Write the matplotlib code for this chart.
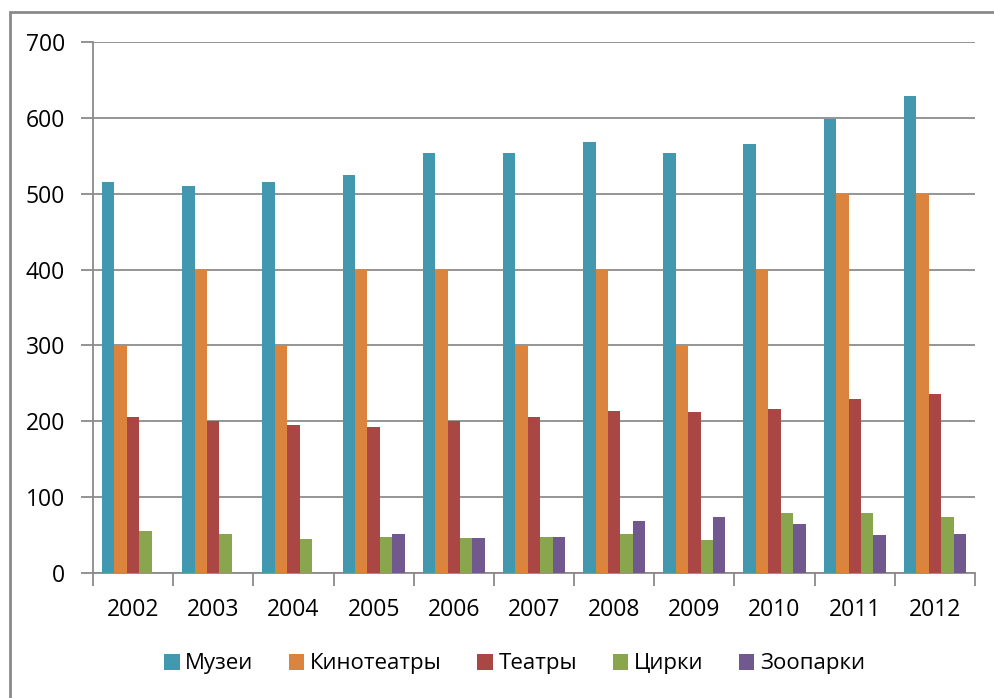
import numpy as np
import matplotlib.pyplot as plt
from matplotlib.patches import Rectangle

plt.rcParams['font.family'] = ['Open Sans', 'DejaVu Sans']

years = ['2002', '2003', '2004', '2005', '2006', '2007', '2008', '2009', '2010', '2011', '2012']
muzei = [515, 510, 515, 525, 554, 554, 568, 554, 566, 599, 629]
kino = [300, 400, 300, 400, 400, 300, 400, 300, 400, 500, 500]
teatry = [205, 200, 195, 193, 200, 205, 213, 212, 216, 229, 236]
cirki = [55, 52, 45, 47, 46, 48, 52, 43, 79, 79, 74]
zoo = [np.nan, np.nan, np.nan, 52, 46, 48, 68, 74, 65, 50, 52]

series = [muzei, kino, teatry, cirki, zoo]
names = ['Музеи', 'Кинотеатры', 'Театры', 'Цирки', 'Зоопарки']
colors = ['#4198AF', '#DB843D', '#AA4643', '#89A54E', '#71588F']

fig = plt.figure(figsize=(9.95, 6.98), dpi=100)
# рамка диаграммы (обрезана справа и снизу)
fig.patches.append(Rectangle((10 / 995, -0.1), 1.2, 1 - 12 / 698 + 0.1,
                             transform=fig.transFigure, fill=False,
                             edgecolor='#8a8a8a', linewidth=2))

ax = fig.add_axes([93 / 995, 125 / 698, 882 / 995, 531 / 698])
x = np.arange(len(years))
w = 0.155
for i, (vals, name, c) in enumerate(zip(series, names, colors)):
    ax.bar(x + (i - 2) * w, vals, width=w, color=c, label=name, zorder=3)

ax.set_xlim(-0.5, len(years) - 0.5)
ax.set_ylim(0, 700)
ax.set_yticks(range(0, 701, 100))
ax.set_xticks(x)
ax.set_xticklabels(years)
ax.set_xticks(np.arange(-0.5, len(years), 1), minor=True)
ax.tick_params(axis='x', which='major', length=0, pad=18, labelsize=16.5)
ax.tick_params(axis='x', which='minor', length=9, width=1.3, color='#8a8a8a')
ax.tick_params(axis='y', length=9, width=1.3, color='#8a8a8a', pad=11, labelsize=16.5)
ax.grid(axis='y', color='#8c8c8c', linewidth=1.3, zorder=0)
for s in ['top', 'right']:
    ax.spines[s].set_visible(False)
for s in ['left', 'bottom']:
    ax.spines[s].set_color('#8a8a8a')
    ax.spines[s].set_linewidth(1.3)

fig.legend(loc='center', bbox_to_anchor=(0.517, 1 - 664 / 698), ncol=5,
           frameon=False, fontsize=16, handlelength=0.7, handleheight=0.7,
           handletextpad=0.25, columnspacing=1.6)

fig.savefig('out.png', dpi=100)
